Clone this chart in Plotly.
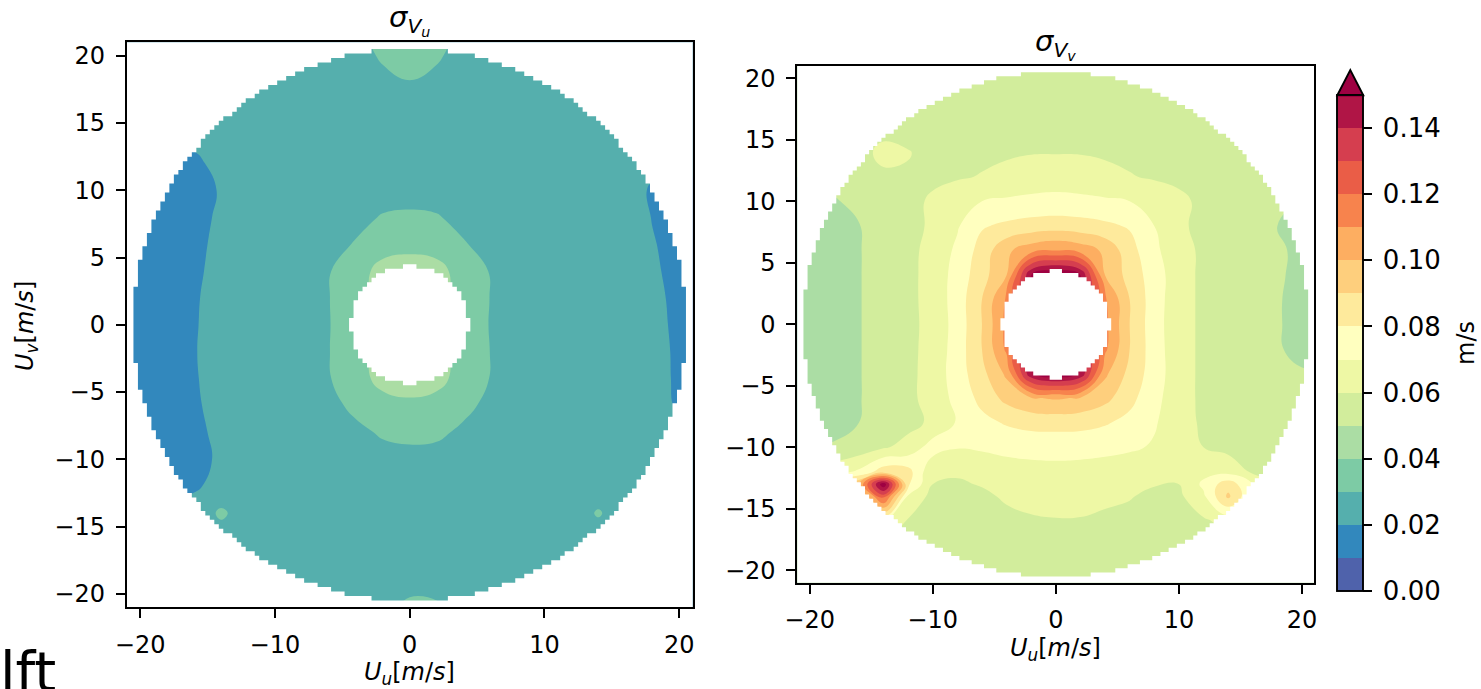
import numpy as np
import plotly.graph_objects as go

# ---------------- data (values in mm/s, i.e. 1e-3 m/s) ----------------
# grid of the (U_u, U_v) plane; points outside the disc / inside the hole are hidden by the mask
U_U_COLS = [-21, -20, -18, -16, -14, -12, -10, -8, -6, -4, -2, 0, 2, 4, 6, 8, 10, 12, 14, 16, 18, 20, 21]

U_V_ROWS_VU = [21, 20, 18, 16, 14, 12, 10, 8, 6, 4, 2, 0, -2, -4, -6, -8, -10, -12, -14, -16, -18, -20, -21]
SIGMA_VU_MM = [
    [25, 25, 25, 25, 25, 25, 25, 25, 26, 28, 32, 34, 32, 28, 26, 25, 25, 25, 25, 25, 25, 25, 25],
    [25, 25, 25, 25, 25, 25, 25, 25.5, 26, 27, 31, 33, 31, 27, 26, 25.5, 25, 25, 25, 25, 25, 25, 25],
    [25, 25, 25, 25, 24.5, 24.5, 24.5, 25, 25.5, 26.5, 28, 29.7, 28, 26.5, 25.5, 25, 24.5, 24.5, 24.5, 25, 25, 25, 25],
    [25, 25, 24, 23, 22.5, 23.5, 24.5, 25, 25.5, 26, 26.5, 26.5, 26.5, 26, 25.5, 25, 24.5, 24, 23.5, 23.5, 24, 25, 25],
    [24, 23, 21.5, 21, 22, 23.5, 24.5, 25, 25.5, 26, 26, 26, 26, 26, 25.5, 25, 24.5, 24, 23.5, 22.5, 21.5, 22.5, 23],
    [17, 17, 18, 19.2, 21.2, 23, 24.3, 25, 25.5, 26, 26, 26, 26, 26, 25.5, 25, 24.5, 24, 23, 21.5, 21, 21, 21],
    [16, 16.5, 17.5, 18.5, 20.3, 23, 24.3, 25, 25.5, 26.5, 27, 27, 27, 26.5, 25.5, 25, 24.5, 24, 23, 21.6, 19.6, 19, 19],
    [16, 16, 17, 18.8, 20.6, 23, 24.3, 25, 26.5, 28, 30.5, 31.2, 30.5, 28, 26.5, 25, 24.5, 24, 23, 21.8, 19.9, 19, 19],
    [16, 16, 17, 19, 21, 23, 24.5, 25.5, 27.5, 30.5, 35, 37, 35, 30.5, 27.5, 25.5, 24.5, 24.2, 23.3, 21.9, 20.2, 19, 19],
    [16, 16, 17, 19.3, 21.2, 23, 24.5, 25.7, 29.5, 35, 44, 45, 44, 35, 29.5, 25.7, 24.5, 24.3, 23.4, 22, 20.4, 19.2, 19],
    [16, 16, 17, 19.6, 21.4, 23.2, 24.6, 26.2, 29.7, 37, 42, 44, 42, 37, 29.7, 26.2, 24.8, 24.3, 23.4, 22.1, 20.6, 19.4, 19],
    [16, 16, 17, 19.7, 21.5, 23.2, 24.6, 26.5, 29.6, 36, 38, 40, 38, 36, 29.5, 26.5, 25, 24.3, 23.5, 22.2, 20.7, 19.5, 19],
    [16, 16, 17, 19.8, 21.5, 23.2, 24.6, 26.3, 29.7, 37, 42, 44, 42, 37, 29.8, 26.3, 24.8, 24.3, 23.5, 22.2, 20.8, 19.6, 19],
    [16, 16, 17, 19.7, 21.4, 23.2, 24.6, 26, 29.5, 35, 44, 46, 44, 35, 29.7, 26, 24.8, 24.3, 23.5, 22.2, 20.9, 19.6, 19],
    [16, 16, 17, 19.5, 21.2, 23, 24.5, 25.7, 27.5, 32, 35.5, 37.5, 35.5, 32, 28, 25.7, 24.6, 24.3, 23.5, 22.2, 21, 19.7, 19.5],
    [16, 16, 17, 19, 21, 23, 24.4, 25.2, 26.2, 28, 31, 32, 31.5, 28.5, 26.5, 25.2, 24.6, 24.3, 23.5, 22.2, 20.5, 20.5, 21],
    [16.5, 17, 17.5, 18.8, 20.6, 23, 24.3, 25, 25.5, 26, 27, 27.5, 27.2, 26.2, 25.5, 25, 24.6, 24.3, 23.5, 22.5, 21.5, 21.5, 22],
    [18, 18, 18.5, 19.4, 21.4, 23.2, 24.4, 25, 25.3, 25.5, 25.6, 25.6, 25.6, 25.5, 25.3, 25, 24.6, 24.3, 24, 23, 22.5, 22.5, 23],
    [23, 22.5, 21.5, 22, 32, 24, 24.5, 25, 25.3, 25.5, 25.6, 25.6, 25.6, 25.5, 25.3, 25, 24.6, 24.5, 31, 24, 24, 24, 24],
    [24, 24, 24, 24, 24, 24.5, 25, 25.3, 25.5, 25.7, 25.8, 25.8, 25.8, 25.7, 25.5, 25.3, 25, 24.8, 24.5, 24.5, 24.5, 24.5, 24.5],
    [25, 25, 25, 25, 25, 25, 25, 25.3, 25.5, 25.7, 26, 27, 26.5, 25.8, 25.5, 25.3, 25, 25, 25, 25, 25, 25, 25],
    [25, 25, 25, 25, 25, 25, 25, 25, 25.5, 26, 27, 29.5, 29, 26, 25.5, 25, 25, 25, 25, 25, 25, 25, 25],
    [25, 25, 25, 25, 25, 25, 25, 25, 25.5, 26, 28, 31.5, 31, 26.5, 25.5, 25, 25, 25, 25, 25, 25, 25, 25],
]

U_V_ROWS_VV = [21, 20, 18, 16, 14, 12, 10, 8, 6, 4, 2, 0, -2, -4, -6, -8, -10, -12, -13, -14, -16, -18, -20, -21]
SIGMA_VV_MM = [
    [55, 55, 55, 55, 55, 55, 55, 55, 55, 55, 55, 55, 55, 55, 55, 55, 55, 55, 55, 55, 55, 55, 55],
    [55, 55, 55, 55, 55, 55, 55, 55, 55, 55, 55, 55.5, 55, 55, 55, 55, 55, 55, 55, 55, 55, 55, 55],
    [55, 55, 55, 55, 55, 55, 55, 55, 55, 56, 56, 56, 56, 56, 55, 55, 55, 55, 55, 55, 55, 55, 55],
    [55, 55, 55.5, 56, 56, 56, 55, 55, 56, 57, 57.5, 57.5, 57.5, 57, 56, 55.5, 55, 55, 55, 55, 55, 55, 55],
    [54, 54, 55, 56, 63, 60.5, 57, 57, 58, 59, 59.5, 59.5, 59.5, 59, 58, 56.5, 56, 55.5, 55, 55, 54, 54, 54],
    [50, 51, 52, 54, 58, 59, 58, 59, 60.5, 62, 64, 65, 64, 62, 60.5, 59, 58, 56.5, 55.5, 55, 53, 52, 52],
    [48, 48.5, 49.5, 51.5, 55, 57, 61.5, 66, 70, 71.5, 72.5, 73, 72.5, 71.5, 70, 66, 62, 58, 55.5, 54, 50.5, 50, 50],
    [45, 45.5, 47, 49.7, 54, 57, 61.5, 69, 79, 82, 84, 85, 84, 82, 79, 70, 62, 57, 54.5, 53, 50, 49, 49],
    [45, 45, 46, 49.5, 54, 57.5, 63, 72, 84, 98, 106, 110, 106, 98, 84, 72, 64, 58, 55, 53, 51, 48.5, 48.5],
    [45, 45, 46, 49.5, 54, 57.5, 63.5, 74, 86, 100, 150, 160, 150, 100, 86, 75, 64, 58, 55, 53, 51, 48, 48],
    [44.5, 44.5, 45.5, 49.5, 54, 57.5, 63.5, 74.5, 90, 112, 140, 160, 140, 112, 90, 74.5, 64, 58, 55, 52.5, 50.5, 48, 48],
    [44.5, 44.5, 45.5, 49.5, 54, 57.5, 63, 74, 90, 113, 113, 130, 113, 113, 90, 74, 64, 58, 55, 52.5, 50.5, 48, 48],
    [44.5, 44.5, 45.5, 49.5, 54, 57.5, 63.5, 74.5, 90, 112, 140, 158, 140, 112, 90, 74.5, 64, 58, 55, 52.5, 50.5, 48.5, 48.5],
    [44.5, 44.5, 45.5, 49.5, 54, 57.5, 64, 75, 87, 102, 148, 158, 148, 102, 87, 75, 64, 58, 55, 53, 51.5, 50.5, 50.5],
    [45, 45, 46, 49.5, 54, 57.5, 64, 73, 83, 93, 99, 101, 99, 93, 83, 73, 64, 58, 55, 53, 52, 51, 51],
    [46, 46.5, 47, 50, 54, 57.5, 61.5, 71, 77, 81, 83.5, 84, 83.5, 81, 77, 71, 64, 58.5, 55.5, 53.5, 52, 52, 52],
    [49, 50, 51, 54, 59, 63, 75, 70.5, 71, 72.5, 73, 73, 73, 72.5, 71.5, 69, 64, 60, 57, 54.5, 52, 52, 52],
    [60, 62, 66, 72, 86, 84, 61.5, 61, 65, 66, 67, 67.5, 67, 66, 64, 62, 62, 67, 67, 58.5, 56, 54, 54],
    [70, 75, 90, 100, 158, 82, 60, 59, 60.5, 63.5, 65, 65.5, 65, 63.5, 61, 60.5, 60, 72, 86, 70, 62, 58, 58],
    [72, 75, 85, 85, 125, 68, 57, 57, 58.5, 61, 62.5, 63, 62.5, 61, 60.5, 58, 58, 68, 92, 70, 62, 58, 58],
    [60, 60, 62, 68, 70, 59, 56.5, 56, 57, 58, 59, 59.5, 59.5, 59, 57.5, 56, 56.5, 58.5, 63, 63, 60, 58, 58],
    [57, 57, 57, 58, 58, 57, 56, 55.5, 55.5, 56, 56.5, 56.5, 56.5, 56, 55.5, 55.5, 56, 57, 58, 57, 56, 56, 56],
    [55, 55, 55, 55, 55, 55, 55, 55, 55, 55, 55, 55, 55, 55, 55, 55, 55, 55, 55, 55, 55, 55, 55],
    [55, 55, 55, 55, 55, 55, 55, 55, 55, 55, 55, 55, 55, 55, 55, 55, 55, 55, 55, 55, 55, 55, 55],
]

CBAR_TICKS = [0.00, 0.02, 0.04, 0.06, 0.08, 0.10, 0.12, 0.14]
LEVEL_START, LEVEL_END, LEVEL_STEP = 0.0, 0.15, 0.01

# domain of the sampled plane (no data outside / inside these radii), sampling cell size
R_OUT = 20.55
R_IN = 4.35
CELL = 1.0 / 3.0
EDGE = 21

# ---------------- helpers ----------------
W, H = 1481, 689
FONT = "DejaVu Sans"


def px(x):
    return x / W


def py(y):
    return 1 - y / H


def build(cols, rows, vals):
    z = [[v / 1000.0 for v in r] for r in vals]
    return cols, rows[::-1], z[::-1]


SPECTRAL_R = [
    [0.0, "#5e4fa2"], [0.1, "#3288bd"], [0.2, "#66c2a5"], [0.3, "#abdda4"],
    [0.4, "#e6f598"], [0.5, "#ffffbf"], [0.6, "#fee08b"], [0.7, "#fdae61"],
    [0.8, "#f46d43"], [0.9, "#d53e4f"], [1.0, "#9e0142"],
]


def stair_loop(radius, inside):
    """Cell-edge outline (clockwise, starting at the right side just above y=0) of the cells
    whose centres satisfy inside(r, radius)."""
    kmax = int(np.ceil(EDGE / CELL)) + 1
    ks = np.arange(-kmax, kmax + 1)
    right = []
    for j in ks[::-1]:
        yc = j * CELL
        ins = [i for i in ks if inside(np.hypot(i * CELL, yc), radius)]
        if not ins:
            continue
        xr = (max(ins) + 0.5) * CELL
        right.append((xr, yc + CELL / 2))
        right.append((xr, yc - CELL / 2))
    left = [(-x, y) for (x, y) in reversed(right)]
    loop = right + left
    start = min(range(len(right)), key=lambda k: abs(right[k][1] - CELL / 2) + (0 if k % 2 == 0 else 1))
    return loop[start:] + loop[:start]


outer_loop = stair_loop(R_OUT, lambda r, R: r <= R)
hole_loop = stair_loop(R_IN, lambda r, R: r < R)
B = EDGE + 1
y0 = outer_loop[0][1]
outer_x = [B, B, -B, -B, B, B] + [p[0] for p in outer_loop] + [B]
outer_y = [y0, B, B, -B, -B, y0] + [p[1] for p in outer_loop] + [y0]
hole_x = [p[0] for p in hole_loop] + [hole_loop[0][0]]
hole_y = [p[1] for p in hole_loop] + [hole_loop[0][1]]

fig = go.Figure()

contour_common = dict(
    colorscale=SPECTRAL_R, zmin=0.0, zmax=0.1500001, autocontour=False,
    contours=dict(start=LEVEL_START, end=LEVEL_END, size=LEVEL_STEP, coloring="fill", showlines=False),
    line=dict(width=0, smoothing=1.3), hoverinfo="skip",
)

xs1, ys1, z1 = build(U_U_COLS, U_V_ROWS_VU, SIGMA_VU_MM)
fig.add_trace(go.Contour(x=xs1, y=ys1, z=z1, showscale=False, xaxis="x", yaxis="y", **contour_common))

xs2, ys2, z2 = build(U_U_COLS, U_V_ROWS_VV, SIGMA_VV_MM)
fig.add_trace(go.Contour(
    x=xs2, y=ys2, z=z2, xaxis="x2", yaxis="y2", showscale=True,
    colorbar=dict(
        x=px(1337.3), xanchor="left", xref="paper", y=py(591), yanchor="bottom", yref="paper",
        len=495.75, lenmode="pixels", thickness=26, thicknessmode="pixels", xpad=0, ypad=0,
        outlinewidth=1.9, outlinecolor="black", ticks="outside", ticklen=9, tickwidth=1.9,
        tickcolor="black", tickvals=CBAR_TICKS, ticktext=["\u2009%.2f" % t for t in CBAR_TICKS],
        tickfont=dict(family=FONT, size=26, color="black"),
    ),
    **contour_common,
))

for xa, ya in (("x", "y"), ("x2", "y2")):
    for mx, my in ((outer_x, outer_y), (hole_x, hole_y)):
        fig.add_trace(go.Scatter(x=mx, y=my, mode="lines", fill="toself", fillcolor="white",
                                 line=dict(width=0, color="white"), hoverinfo="skip",
                                 xaxis=xa, yaxis=ya, showlegend=False))

axis_common = dict(
    range=[-EDGE, EDGE], showline=True, mirror=True, linecolor="black", linewidth=1.9,
    ticks="outside", ticklen=9, tickwidth=1.9, tickcolor="black", showgrid=False, zeroline=False,
    tickfont=dict(family=FONT, size=24, color="black"), automargin=False, fixedrange=True,
)

fig.update_layout(
    width=W, height=H, margin=dict(l=0, r=0, t=0, b=0),
    paper_bgcolor="white", plot_bgcolor="white", showlegend=False,
    xaxis=dict(domain=[px(126.7), px(692.7)], anchor="y", dtick=10, ticklabelstandoff=6, **axis_common),
    yaxis=dict(domain=[py(607.3), py(42.3)], anchor="x", dtick=5, ticklabelstandoff=6, **axis_common),
    xaxis2=dict(domain=[px(797.3), px(1314.3)], anchor="y2", dtick=10, ticklabelstandoff=6, **axis_common),
    yaxis2=dict(domain=[py(582.7), py(66)], anchor="x2", dtick=5, ticklabelstandoff=6, **axis_common),
)

ann = []


def add_text(text, x, y, size, xanchor="center", yanchor="middle", angle=0):
    ann.append(dict(text=text, x=px(x), y=py(y), xref="paper", yref="paper", showarrow=False,
                    xanchor=xanchor, yanchor=yanchor, textangle=angle,
                    font=dict(family=FONT, size=size, color="black")))


add_text("<i>σ</i><sub><i>V</i><sub><i>u</i></sub></sub>", 409.7, 20, 29)
add_text("<i>σ</i><sub><i>V</i><sub><i>v</i></sub></sub>", 1055.8, 44, 29)
add_text("<i>U</i><sub><i>u</i></sub>[<i>m</i>/<i>s</i>]", 409.7, 673, 24)
add_text("<i>U</i><sub><i>u</i></sub>[<i>m</i>/<i>s</i>]", 1055.8, 649, 24)
add_text("<i>U</i><sub><i>v</i></sub>[<i>m</i>/<i>s</i>]", 26, 326, 24, angle=-90)
add_text("m/s", 1466, 343, 24, angle=-90)
add_text("lft", -2, 637, 56, xanchor="left", yanchor="top")
fig.update_layout(annotations=ann)

# extension triangle of the colour bar (values above the last level)
fig.add_shape(type="path", xref="paper", yref="paper",
              path=f"M {px(1337.3)},{py(95.25)} L {px(1350.3)},{py(70)} L {px(1363.3)},{py(95.25)} Z",
              fillcolor="#9e0142", line=dict(color="black", width=1.9))

fig.write_html("out.html")
